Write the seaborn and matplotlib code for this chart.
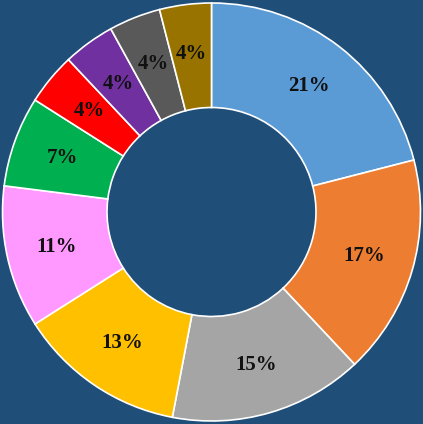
import numpy as np
import pandas as pd
import matplotlib
matplotlib.use('Agg')
import matplotlib.pyplot as plt
import seaborn as sns

# share of each category, clockwise from 12 o'clock
shares = [21, 17, 15, 13, 11, 7, 4, 4, 4, 4]
labels = ['21%', '17%', '15%', '13%', '11%', '7%', '4%', '4%', '4%', '4%']
colors = ['#5B9BD5', '#ED7D31', '#A5A5A5', '#FFC000', '#FF99FF',
          '#00B050', '#FF0000', '#7030A0', '#595959', '#997300']

bg = '#1F4E79'

sns.set_style("white")
plt.rcParams['font.family'] = ['Liberation Serif', 'DejaVu Serif']

fig = plt.figure(figsize=(4.23, 4.24), dpi=100, facecolor=bg)
ax = fig.add_axes([0, 0, 1, 1])
ax.set_facecolor(bg)

pal = sns.color_palette(colors)
wedges, texts = ax.pie(shares, colors=pal, startangle=90, counterclock=False,
                       radius=1.0,
                       wedgeprops=dict(width=0.5, edgecolor='white', linewidth=1.2))

# percentage labels in the middle of the ring
for w, lab in zip(wedges, labels):
    ang = np.deg2rad((w.theta1 + w.theta2) / 2)
    r = 0.76
    ax.text(r * np.cos(ang), r * np.sin(ang), lab, ha='center', va='center',
            fontsize=15, fontweight='bold', color='#111111')

ax.set_xlim(-1.012, 1.012)
ax.set_ylim(-1.014, 1.014)
ax.set_aspect('equal')
ax.axis('off')

plt.savefig('out.png', facecolor=bg)
plt.close()
